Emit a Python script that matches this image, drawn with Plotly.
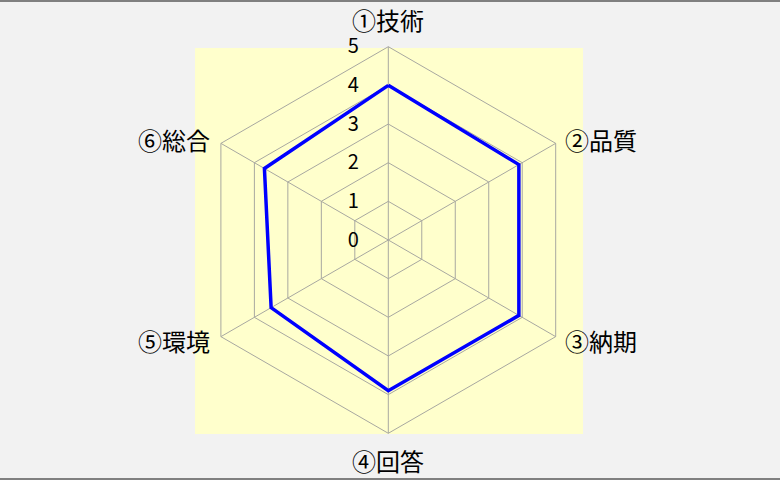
import math
import plotly.graph_objects as go

# Evaluation items and scores
categories = ['①技術', '②品質', '③納期', '④回答', '⑤環境', '⑥総合']
scores = [4.0, 3.9, 3.9, 3.9, 3.5, 3.7]
radial_ticks = [0, 1, 2, 3, 4, 5]

W, H = 780, 480
CX, CY, R = 388.3, 240.0, 193.3   # polar centre / radius in px (from top-left)

fig = go.Figure(go.Scatterpolar(
    r = scores + scores[:1],
    theta = categories + categories[:1],
    mode = 'lines',
    line = dict(color = '#0000ff', width = 3.5),
    hoverinfo = 'skip',
))

# category labels placed around the hexagon like the original (Excel style)
annotations = []
for i, name in enumerate(categories):
    a = math.radians(90 - i * 360 / len(categories))
    vx = CX + R * math.cos(a)
    vy = CY - R * math.sin(a)
    if abs(math.cos(a)) < 1e-6:
        x, y, xa = vx, vy - 27 if math.sin(a) > 0 else vy + 27, 'center'
    else:
        x = vx + 7 if math.cos(a) > 0 else vx - 9
        y = vy - 4 if math.sin(a) > 0 else vy + 4
        xa = 'left' if math.cos(a) > 0 else 'right'
    annotations.append(dict(
        text = name, x = x / W, y = 1 - y / H, xref = 'paper', yref = 'paper',
        xanchor = xa, yanchor = 'middle', showarrow = False,
        font = dict(size = 24),
    ))

fig.update_layout(
    width = W,
    height = H,
    margin = dict(l = 0, r = 0, t = 0, b = 0),
    paper_bgcolor = '#f2f2f2',
    showlegend = False,
    font = dict(family = 'Noto Sans CJK JP', size = 20, color = '#000000'),
    polar = dict(
        domain = dict(x = [(CX - R) / W, (CX + R) / W],
                      y = [1 - (CY + R) / H, 1 - (CY - R) / H]),
        bgcolor = 'rgba(0,0,0,0)',
        gridshape = 'linear',
        angularaxis = dict(
            direction = 'clockwise',
            rotation = 90,
            showline = True,
            linecolor = '#a8a8a0',
            linewidth = 1,
            gridcolor = '#a8a8a0',
            gridwidth = 1,
            ticks = '',
            showticklabels = False,
        ),
        radialaxis = dict(
            range = [0, 5],
            tickvals = radial_ticks,
            angle = 90,
            side = 'counterclockwise',
            showline = False,
            gridcolor = '#a8a8a0',
            gridwidth = 1,
            ticks = 'outside',
            ticklen = 22,
            tickcolor = 'rgba(0,0,0,0)',
            tickfont = dict(size = 20),
            tickangle = 90,
        ),
    ),
    annotations = annotations,
    shapes = [
        # yellow plot area
        dict(type = 'rect', xref = 'paper', yref = 'paper', layer = 'below',
             x0 = 195 / W, x1 = 583 / W, y0 = 46 / H, y1 = 432 / H,
             fillcolor = '#ffffcc', line = dict(width = 0)),
        # top and bottom frame lines
        dict(type = 'line', xref = 'paper', yref = 'paper', x0 = 0, x1 = 1,
             y0 = 0.998, y1 = 0.998, line = dict(color = '#808080', width = 2)),
        dict(type = 'line', xref = 'paper', yref = 'paper', x0 = 0, x1 = 1,
             y0 = 0.002, y1 = 0.002, line = dict(color = '#808080', width = 2)),
    ],
)

fig.write_html("out.html", config = {'displayModeBar': False},
               post_script = "document.body.style.margin = '0';")
